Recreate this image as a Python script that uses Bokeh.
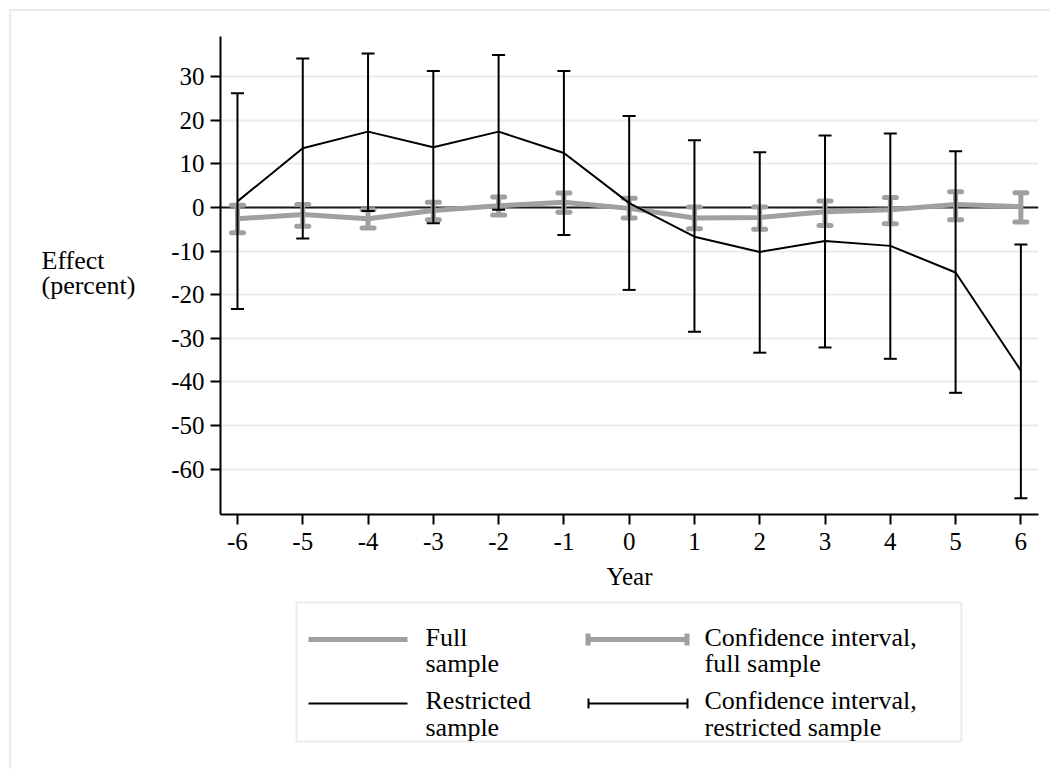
from bokeh.plotting import figure
from bokeh.models import Range1d, FixedTicker, Span
from bokeh.layouts import column, row
from bokeh.core.properties import value
from bokeh.embed import file_html
from bokeh.resources import INLINE

# ---------------- data ----------------
years = [-6, -5, -4, -3, -2, -1, 0, 1, 2, 3, 4, 5, 6]
full_est = [-2.6, -1.6, -2.6, -0.7, 0.4, 1.2, -0.2, -2.4, -2.3, -1.0, -0.5, 0.7, 0.2]
full_lo = [-5.8, -4.3, -4.7, -2.8, -1.7, -1.1, -2.4, -4.9, -5.0, -4.1, -3.7, -2.8, -3.3]
full_hi = [0.5, 0.7, -0.5, 1.2, 2.4, 3.3, 2.1, 0.1, 0.1, 1.5, 2.3, 3.6, 3.4]
restr_est = [1.4, 13.6, 17.4, 13.8, 17.4, 12.5, 1.0, -6.7, -10.2, -7.7, -8.8, -14.9, -37.4]
restr_lo = [-23.3, -7.1, -0.8, -3.6, -0.5, -6.3, -18.9, -28.5, -33.3, -32.1, -34.7, -42.5, -66.7]
restr_hi = [26.2, 34.2, 35.3, 31.3, 35.0, 31.3, 21.0, 15.4, 12.7, 16.5, 17.0, 12.9, -8.5]
y_ticks = [-60, -50, -40, -30, -20, -10, 0, 10, 20, 30]
x_label = "Year"
y_label_lines = ["Effect", "(percent)"]
legend_col1 = ["Full", "sample", "Restricted", "sample"]
legend_col2 = ["Confidence interval,", "full sample", "Confidence interval,", "restricted sample"]

FONT = "Liberation Serif"
FS = "25px"
FS_TXT = "26px"
GRAY = "#a0a0a0"
FRAME_COL = "#ebebeb"

# ---------------- page geometry (pixels) ----------------
W, H = 1050, 769
M = 11                      # outer frame offset (margin 9 + border 2)
LAB_R = 161                 # right edge of y-title strip
SPLIT = 600                 # top of legend strip
FX0, FX1, FY0, FY1 = 220, 1038, 36, 514   # plot frame
X0, X1 = -6.26, 6.27
Y0, Y1 = -70.41, 39.22

# ---------------- y-axis title strip ----------------
lab = figure(width=LAB_R - M, height=SPLIT - M, output_backend="svg", toolbar_location=None,
             x_range=Range1d(M, LAB_R), y_range=Range1d(SPLIT, M),
             min_border=0, x_axis_location=None, y_axis_location=None)
lab.grid.visible = False
lab.outline_line_color = None
lab.frame_align = False
lab.text(x=[41, 41], y=[260, 285], text=y_label_lines, text_font=value(FONT),
         text_font_size=value(FS_TXT), text_color="black", text_baseline="alphabetic",
         text_align="left")

# ---------------- main plot ----------------
p = figure(width=W - LAB_R, height=SPLIT - M, output_backend="svg", toolbar_location=None,
           x_range=Range1d(X0, X1), y_range=Range1d(Y0, Y1),
           min_border_left=FX0 - LAB_R, min_border_right=W - FX1,
           min_border_top=FY0 - M, min_border_bottom=SPLIT - FY1)
p.frame_align = False
p.outline_line_color = None
p.background_fill_color = "white"
p.border_fill_color = "white"

p.xgrid.visible = False
p.ygrid.grid_line_color = FRAME_COL
p.ygrid.grid_line_width = 2
p.ygrid.ticker = FixedTicker(ticks=y_ticks)

for ax in (p.xaxis[0], p.yaxis[0]):
    ax.axis_line_color = "black"
    ax.axis_line_width = 2
    ax.major_tick_line_color = "black"
    ax.major_tick_line_width = 2
    ax.major_tick_out = 10
    ax.major_tick_in = 0
    ax.minor_tick_line_color = None
    ax.major_label_text_font = FONT
    ax.major_label_text_font_size = FS
    ax.major_label_text_color = "black"

p.xaxis.ticker = FixedTicker(ticks=years)
p.yaxis.ticker = FixedTicker(ticks=y_ticks)
p.xaxis.major_label_overrides = {t: str(t) for t in years}
p.yaxis.major_label_overrides = {t: str(t) for t in y_ticks}
p.xaxis.major_label_standoff = 8
p.yaxis.major_label_standoff = 6
p.xaxis.axis_label = x_label
p.xaxis.axis_label_text_font = FONT
p.xaxis.axis_label_text_font_size = FS
p.xaxis.axis_label_text_font_style = "normal"
p.xaxis.axis_label_text_color = "black"
p.xaxis.axis_label_standoff = 10

zero = Span(location=0, dimension="width", line_color="#1a1a1a", line_width=2, level="underlay")
p.add_layout(zero)

# full sample
p.segment(x0=years, y0=full_lo, x1=years, y1=full_hi, line_color=GRAY, line_width=5)
p.scatter(x=years + years, y=full_lo + full_hi, marker="dash", size=12,
          line_color=GRAY, line_width=5, line_cap="round")
p.line(x=years, y=full_est, line_color=GRAY, line_width=5, line_join="round")

# restricted sample
p.segment(x0=years, y0=restr_lo, x1=years, y1=restr_hi, line_color="black", line_width=2)
p.scatter(x=years + years, y=restr_lo + restr_hi, marker="dash", size=13,
          line_color="black", line_width=2)
p.line(x=years, y=restr_est, line_color="black", line_width=2)

# ---------------- legend strip ----------------
q = figure(width=W - M, height=H - SPLIT, output_backend="svg", toolbar_location=None,
           x_range=Range1d(M, W), y_range=Range1d(H, SPLIT),
           min_border=0, x_axis_location=None, y_axis_location=None)
q.frame_align = False
q.grid.visible = False
q.outline_line_color = None

q.quad(left=[296], right=[961], top=[602], bottom=[741],
       fill_color=None, line_color=FRAME_COL, line_width=2)
q.segment(x0=[308], y0=[639], x1=[407], y1=[639], line_color=GRAY, line_width=5)
q.segment(x0=[308], y0=[703], x1=[407], y1=[703], line_color="black", line_width=2)
q.segment(x0=[587], y0=[639], x1=[687], y1=[639], line_color=GRAY, line_width=5)
q.segment(x0=[587.5, 686.5], y0=[633, 633], x1=[587.5, 686.5], y1=[645, 645],
          line_color=GRAY, line_width=5)
q.segment(x0=[588], y0=[703], x1=[687], y1=[703], line_color="black", line_width=2)
q.segment(x0=[588, 687], y0=[698, 698], x1=[588, 687], y1=[708, 708],
          line_color="black", line_width=2)

bases = [637, 663, 700, 727]
q.text(x=[425] * 4, y=bases, text=legend_col1, text_font=value(FONT), text_font_size=value(FS_TXT),
       text_color="black", text_baseline="alphabetic", text_align="left")
q.text(x=[704] * 4, y=bases, text=legend_col2, text_font=value(FONT), text_font_size=value(FS_TXT),
       text_color="black", text_baseline="alphabetic", text_align="left")

layout = column(row(lab, p, spacing=0), q, spacing=0, margin=(9, 0, 0, 9),
                styles={"border-top": "2px solid " + FRAME_COL, "border-left": "2px solid " + FRAME_COL})
open("out.html", "w").write(file_html(layout, INLINE))
